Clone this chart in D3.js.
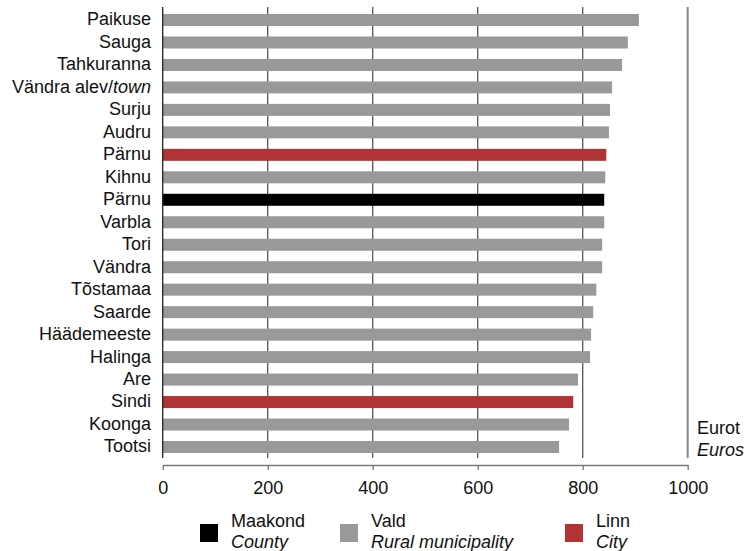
<!DOCTYPE html>
<html><head><meta charset="utf-8">
<script src="https://cdn.jsdelivr.net/npm/d3@7"></script>
<style>body{margin:0;background:#fff}svg{display:block;font-family:"Liberation Sans",Arial,sans-serif}</style>
</head><body><svg id="c" width="748" height="551"></svg>
<script>
const categories = ["Paikuse","Sauga","Tahkuranna","Vändra alev/town","Surju","Audru","Pärnu","Kihnu","Pärnu","Varbla","Tori","Vändra","Tõstamaa","Saarde","Häädemeeste","Halinga","Are","Sindi","Koonga","Tootsi"];
const values = [907,886,875,856,852,850,845,843,841,841,837,837,826,820,816,814,791,782,774,755];
const types = ["Vald","Vald","Vald","Vald","Vald","Vald","Linn","Vald","Maakond","Vald","Vald","Vald","Vald","Vald","Vald","Vald","Vald","Linn","Vald","Vald"];
const xTicks = [0,200,400,600,800,1000];
const legendKeys = ["Maakond","Vald","Linn"];
const legendEt = ["Maakond","Vald","Linn"];
const legendEn = ["County","Rural municipality","City"];
const colors = {Maakond:"#000000", Vald:"#999999", Linn:"#b13334"};

const FS = "18px";
const svg = d3.select("#c");
const x = d3.scaleLinear().domain([0,1000]).range([162.7,687.7]);
const y = d3.scalePoint().domain(d3.range(categories.length)).range([20,447]);
const barH = 12;

// gridlines
svg.append("g").selectAll("line").data([200,400,600,800]).join("line")
  .attr("x1",d=>x(d)).attr("x2",d=>x(d)).attr("y1",7).attr("y2",458)
  .attr("stroke","#555").attr("stroke-width",1.3);
svg.append("line").attr("x1",x(1000)).attr("x2",x(1000)).attr("y1",7).attr("y2",458)
  .attr("stroke","#888").attr("stroke-width",2);

// bars
svg.append("g").selectAll("rect").data(values).join("rect")
  .attr("x",x(0)).attr("y",(d,i)=>y(i)-barH/2)
  .attr("width",d=>x(d)-x(0)).attr("height",barH)
  .attr("fill",(d,i)=>colors[types[i]]);

svg.append("line").attr("x1",x(0)).attr("x2",x(0)).attr("y1",7).attr("y2",458)
  .attr("stroke","#222").attr("stroke-width",1.3);

// category labels
const lab = svg.append("g").attr("font-size",FS).attr("fill","#111").attr("text-anchor","end");
categories.forEach((c,i)=>{
  const t = lab.append("text").attr("x",151).attr("y",y(i)).attr("dy","0.3em");
  if (c.includes("/")) {
    const [a,b] = c.split("/");
    t.append("tspan").text(a+"/");
    t.append("tspan").attr("font-style","italic").text(b);
  } else t.text(c);
});

// x axis
const ax = svg.append("g").attr("transform","translate(0,465)")
  .call(d3.axisBottom(x).tickValues(xTicks).tickFormat(d3.format("d")).tickSize(5).tickSizeOuter(0).tickPadding(11));
ax.select(".domain").attr("stroke","#777").attr("stroke-width",1.3);
ax.selectAll(".tick line").attr("stroke","#777").attr("stroke-width",1.3);
ax.selectAll("text").attr("font-size",FS).attr("fill","#111").attr("font-family","Liberation Sans, Arial, sans-serif");

// unit label
svg.append("text").attr("x",697).attr("y",434).attr("font-size",FS).attr("fill","#111").text("Eurot");
svg.append("text").attr("x",697).attr("y",456).attr("font-size",FS).attr("font-style","italic").attr("fill","#111").text("Euros");

// legend
const lx = [200,340,565];
const lg = svg.append("g");
legendKeys.forEach((k,i)=>{
  const g = lg.append("g").attr("transform",`translate(${lx[i]},0)`);
  g.append("rect").attr("x",0).attr("y",524).attr("width",18).attr("height",18).attr("fill",colors[k]);
  g.append("text").attr("x",31).attr("y",527).attr("font-size",FS).attr("fill","#111").text(legendEt[i]);
  g.append("text").attr("x",31).attr("y",548).attr("font-size",FS).attr("font-style","italic").attr("fill","#111").text(legendEn[i]);
});
</script></body></html>
